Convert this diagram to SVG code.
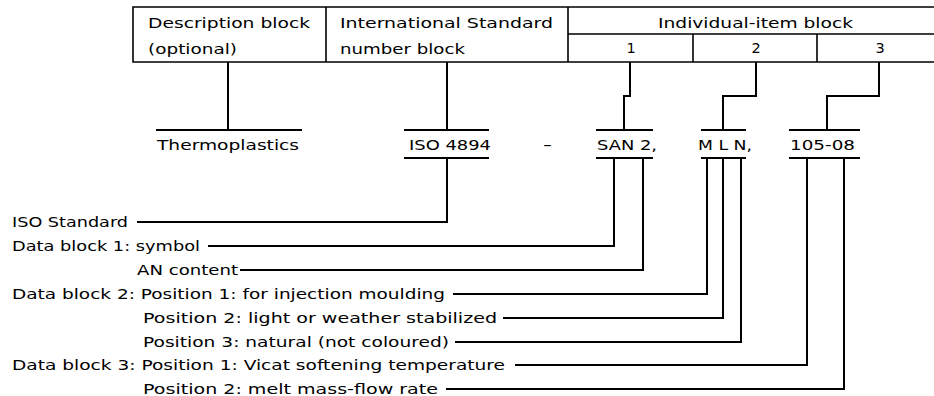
<svg xmlns="http://www.w3.org/2000/svg" width="934" height="396" viewBox="0 0 934 396">
<style>
text{font-family:"DejaVu Sans","Liberation Sans",sans-serif;font-size:14.5px;fill:#000}
.m{text-anchor:middle}
.t{stroke:#000;stroke-width:1.6;fill:none}
.c{stroke:#000;stroke-width:2;fill:none}
</style>
<rect width="934" height="396" fill="#fff"/>
<g id="table">
<path class="t" d="M934 7H133V62H934M326 7V62M568 7V62M568 34H934M693 34V62M817 34V62"/>
<text x="148" y="28" textLength="162" lengthAdjust="spacingAndGlyphs">Description block</text>
<text x="148" y="54" textLength="89" lengthAdjust="spacingAndGlyphs">(optional)</text>
<text x="340" y="28" textLength="213" lengthAdjust="spacingAndGlyphs">International Standard</text>
<text x="340" y="54" textLength="125" lengthAdjust="spacingAndGlyphs">number block</text>
<text x="658" y="28" textLength="195" lengthAdjust="spacingAndGlyphs">Individual-item block</text>
<text class="m" x="631" y="53">1</text>
<text class="m" x="756" y="53">2</text>
<text class="m" x="880" y="53">3</text>
</g>
<g id="thermoplastics">
<path class="c" d="M156 130H302"/>
<text x="157" y="150" textLength="142" lengthAdjust="spacingAndGlyphs">Thermoplastics</text>
</g>
<g id="iso4894">
<path class="c" d="M404 130H489M404 158H489"/>
<text x="409" y="150" textLength="82" lengthAdjust="spacingAndGlyphs">ISO 4894</text>
</g>
<g id="dash">
<text x="543" y="150" textLength="9" lengthAdjust="spacingAndGlyphs">-</text>
</g>
<g id="san">
<path class="c" d="M596 130H653M596 158H653"/>
<text x="597" y="150" textLength="60" lengthAdjust="spacingAndGlyphs">SAN 2,</text>
</g>
<g id="mln">
<path class="c" d="M701 130H746M701 158H746"/>
<text x="698" y="150" textLength="54" lengthAdjust="spacingAndGlyphs">M L N,</text>
</g>
<g id="vicat">
<path class="c" d="M789 130H860M789 158H860"/>
<text x="790" y="150" textLength="65" lengthAdjust="spacingAndGlyphs">105-08</text>
</g>
<g id="labels">
<text x="12" y="227" textLength="116" lengthAdjust="spacingAndGlyphs">ISO Standard</text>
<text x="12" y="251" textLength="188" lengthAdjust="spacingAndGlyphs">Data block 1: symbol</text>
<text x="137" y="275" textLength="101" lengthAdjust="spacingAndGlyphs">AN content</text>
<text x="12" y="299" textLength="433" lengthAdjust="spacingAndGlyphs">Data block 2: Position 1: for injection moulding</text>
<text x="143" y="323" textLength="354" lengthAdjust="spacingAndGlyphs">Position 2: light or weather stabilized</text>
<text x="143" y="347" textLength="306" lengthAdjust="spacingAndGlyphs">Position 3: natural (not coloured)</text>
<text x="12" y="370" textLength="493" lengthAdjust="spacingAndGlyphs">Data block 3: Position 1: Vicat softening temperature</text>
<text x="143" y="394" textLength="295" lengthAdjust="spacingAndGlyphs">Position 2: melt mass-flow rate</text>
</g>
<g id="connectors">
<path class="c" d="M228 62V130"/>
<path class="c" d="M447 62V130"/>
<path class="c" d="M630 62V96H624V130"/>
<path class="c" d="M756 62V96H723V130"/>
<path class="c" d="M879 62V96H827V130"/>
<path class="c" d="M447 158V222H137"/>
<path class="c" d="M614 158V246H208"/>
<path class="c" d="M643 158V270H240"/>
<path class="c" d="M707 158V294H453"/>
<path class="c" d="M723 158V318H503"/>
<path class="c" d="M741 158V342H455"/>
<path class="c" d="M807 158V365H515"/>
<path class="c" d="M844 158V389H446"/>
</g>
</svg>
